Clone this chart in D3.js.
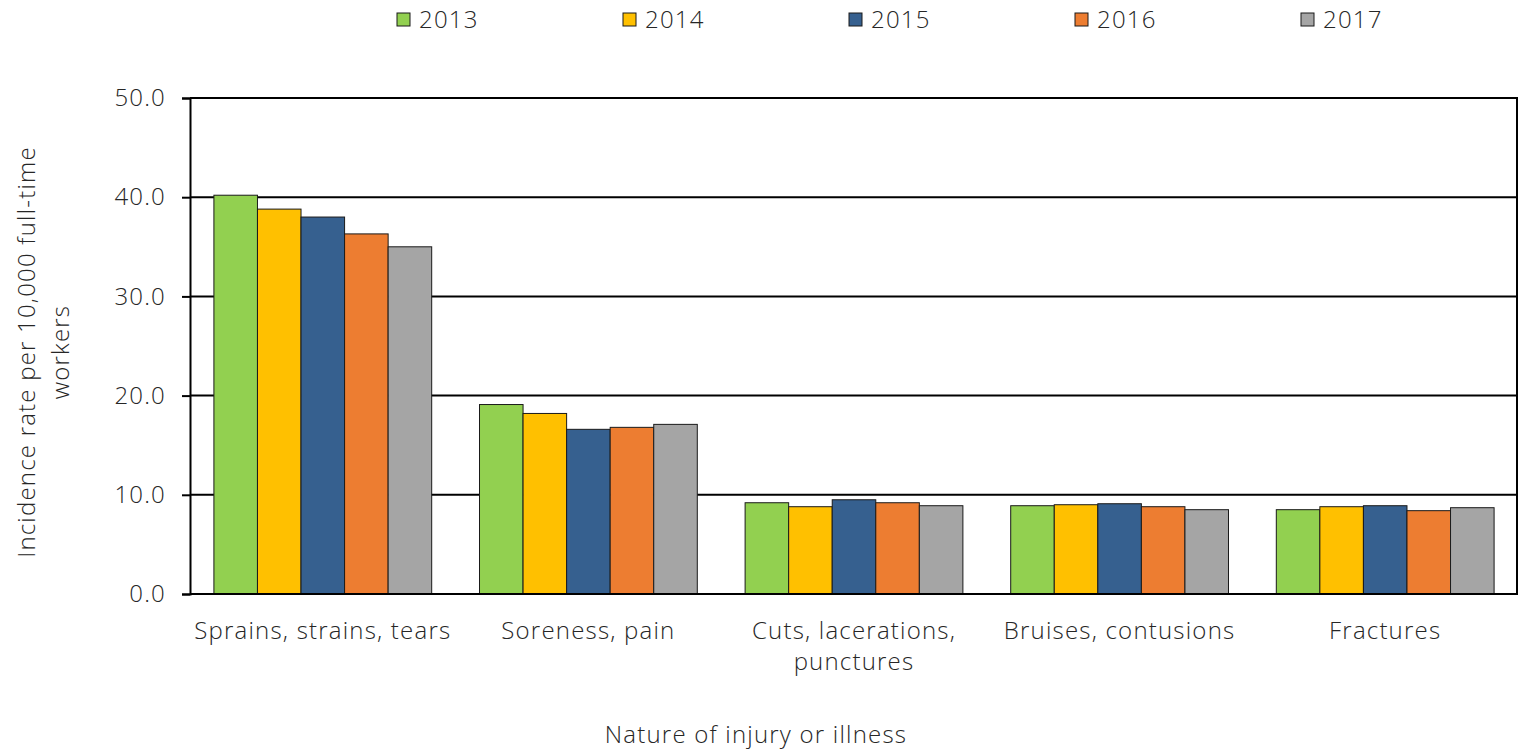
<!DOCTYPE html>
<html>
<head>
<meta charset="utf-8">
<script src="https://cdn.jsdelivr.net/npm/d3@7"></script>
<style>
  body { margin: 0; background: #fff; }
  text { font-family: "Open Sans", "Noto Sans", sans-serif; font-weight: 300; fill: #262626; letter-spacing: 1.2px; }
</style>
</head>
<body>
<div id="root"></div>
<script>
const categories = [
  ["Sprains, strains, tears"],
  ["Soreness, pain"],
  ["Cuts, lacerations,", "punctures"],
  ["Bruises, contusions"],
  ["Fractures"],
];
const years = ["2013", "2014", "2015", "2016", "2017"];
const colors = ["#92d050", "#ffc000", "#36608f", "#ed7d31", "#a5a5a5"];

// one array per year, in category order
const v2013 = [40.2, 19.1, 9.2, 8.9, 8.5];
const v2014 = [38.8, 18.2, 8.8, 9.0, 8.8];
const v2015 = [38.0, 16.6, 9.5, 9.1, 8.9];
const v2016 = [36.3, 16.8, 9.2, 8.8, 8.4];
const v2017 = [35.0, 17.1, 8.9, 8.5, 8.7];
const series = [v2013, v2014, v2015, v2016, v2017];

const yTicks = [0, 10, 20, 30, 40, 50];

const width = 1519,
  height = 750,
  margins = { top: 98, right: 1, bottom: 156, left: 190 };

const svg = d3
  .select("#root")
  .append("svg")
  .attr("width", width)
  .attr("height", height)
  .attr("viewBox", [0, 0, width, height]);

const x0 = d3
  .scaleBand()
  .domain(d3.range(categories.length))
  .range([margins.left, width - margins.right])
  .paddingInner(0.18)
  .paddingOuter(0.09);

const x1 = d3.scaleBand().domain(years).range([0, x0.bandwidth()]);

const y = d3
  .scaleLinear()
  .domain([0, 50])
  .range([height - margins.bottom, margins.top]);

// gridlines
svg
  .append("g")
  .selectAll("line")
  .data(yTicks.slice(1))
  .join("line")
  .attr("x1", margins.left)
  .attr("x2", width - margins.right)
  .attr("y1", (d) => y(d))
  .attr("y2", (d) => y(d))
  .attr("stroke", "#000")
  .attr("stroke-width", 2);

// right border of plot
svg
  .append("line")
  .attr("x1", width - margins.right - 1)
  .attr("x2", width - margins.right - 1)
  .attr("y1", y(50))
  .attr("y2", y(0))
  .attr("stroke", "#000")
  .attr("stroke-width", 2);

// bars
const groups = svg
  .append("g")
  .selectAll("g")
  .data(categories)
  .join("g")
  .attr("transform", (d, i) => `translate(${x0(i)},0)`);

groups
  .selectAll("rect")
  .data((d, i) => years.map((yr, j) => ({ yr, j, value: series[j][i] })))
  .join("rect")
  .attr("x", (d) => x1(d.yr))
  .attr("y", (d) => y(d.value))
  .attr("width", x1.bandwidth())
  .attr("height", (d) => y(0) - y(d.value))
  .attr("fill", (d) => colors[d.j])
  .attr("stroke", "#1a1a1a")
  .attr("stroke-width", 1);

// y axis
const yAxis = d3
  .axisLeft(y)
  .tickValues(yTicks)
  .tickSize(8)
  .tickPadding(16)
  .tickFormat(d3.format(".1f"));

const yAxisG = svg
  .append("g")
  .attr("transform", `translate(${margins.left},0)`)
  .call(yAxis)
  .attr("font-family", null)
  .attr("font-size", null);
yAxisG.select(".domain").attr("stroke", "#000").attr("stroke-width", 2);
yAxisG.selectAll(".tick line").attr("stroke", "#000").attr("stroke-width", 2);
yAxisG
  .selectAll(".tick text")
  .style("font-size", "24px")
  .attr("fill", null);

// x axis line
svg
  .append("line")
  .attr("x1", margins.left)
  .attr("x2", width - margins.right)
  .attr("y1", y(0))
  .attr("y2", y(0))
  .attr("stroke", "#000")
  .attr("stroke-width", 2);

// category labels
const catLabels = svg
  .append("g")
  .selectAll("text")
  .data(categories)
  .join("text")
  .attr("x", (d, i) => x0(i) + x0.bandwidth() / 2)
  .attr("y", 639)
  .attr("text-anchor", "middle")
  .style("font-size", "24px");

catLabels
  .selectAll("tspan")
  .data((d) => d)
  .join("tspan")
  .attr("x", function () {
    return this.parentNode.getAttribute("x");
  })
  .attr("dy", (d, i) => (i === 0 ? 0 : 31))
  .text((d) => d);

// axis titles
svg
  .append("text")
  .attr("x", 756)
  .attr("y", 743)
  .attr("text-anchor", "middle")
  .style("font-size", "24px")
  .text("Nature of injury or illness");

const yTitle = svg
  .append("text")
  .attr("transform", `translate(35,352) rotate(-90)`)
  .attr("text-anchor", "middle")
  .style("font-size", "24px");
yTitle.append("tspan").attr("x", 0).attr("dy", 0).text("Incidence rate per 10,000 full-time");
yTitle.append("tspan").attr("x", 0).attr("dy", 34).text("workers");

// legend
const legend = svg
  .append("g")
  .selectAll("g")
  .data(years)
  .join("g")
  .attr("transform", (d, i) => `translate(${397 + i * 226},13)`);

legend
  .append("rect")
  .attr("width", 13)
  .attr("height", 13)
  .attr("fill", (d, i) => colors[i])
  .attr("stroke", "#1a1a1a")
  .attr("stroke-width", 1);

legend
  .append("text")
  .attr("x", 22)
  .attr("y", 15)
  .style("font-size", "24px")
  .text((d) => d);
</script>
</body>
</html>
